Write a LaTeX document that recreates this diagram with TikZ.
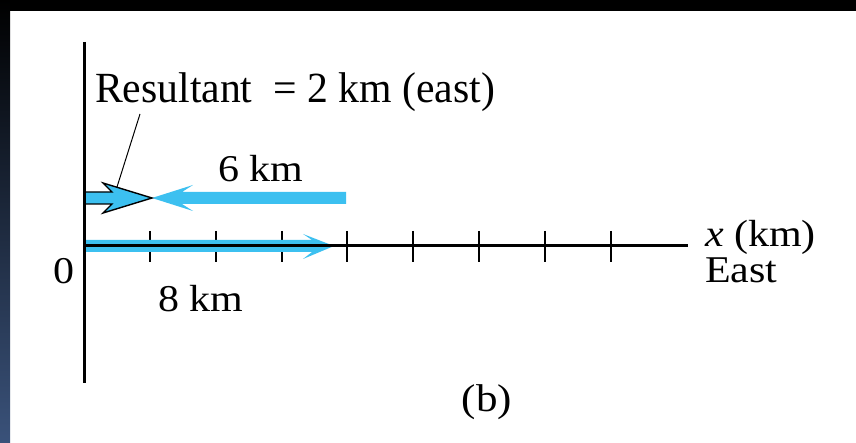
\documentclass[tikz,border=0pt]{standalone}
\usepackage{fontspec}
\usepackage{graphicx}
\setmainfont{Liberation Serif}
\definecolor{vblue}{RGB}{60,192,240}
\definecolor{bgblue}{RGB}{58,82,122}
\newcommand{\sqz}[1]{\scalebox{1}[0.9]{#1}}
\newcommand{\nrw}[1]{\scalebox{0.97}[1]{#1}}
\begin{document}
\begin{tikzpicture}[x=1pt,y=-1pt,
  lbl/.style={inner sep=0pt, outer sep=0pt, font=\fontsize{42}{48}\selectfont},
  biglbl/.style={inner sep=0pt, outer sep=0pt, font=\fontsize{43}{50}\selectfont},
  axisline/.style={draw=black, line width=3pt},
  tickline/.style={draw=black, line width=2.2pt},
  vecfill/.style={fill=vblue},
  leader/.style={draw=black, line width=1pt}]
% background and frame
\fill[white] (0,0) rectangle (856,443);
\fill[black] (0,0) rectangle (856,11);
\shade[top color=black, bottom color=bgblue] (0,0) rectangle (10,443);
\useasboundingbox (0,0) rectangle (856,443);

% axis coordinates
\coordinate (O) at (84,246);
\coordinate (Xend) at (688,246);
\coordinate (Ytop) at (84,42);
\coordinate (Ybot) at (84,383);

% ticks
\foreach \x in {150,216,282,347,413,479,545,611}
  \draw[tickline] (\x,231) -- (\x,262);

% 8 km vector
\fill[vecfill] (84,240) -- (312,240) -- (303,234) -- (334,246) -- (303,259) -- (312,252) -- (84,252) -- cycle;

% 6 km vector
\fill[vecfill] (346,192) -- (182,192) -- (193,185) -- (152,198) -- (193,211) -- (182,204) -- (346,204) -- cycle;

% resultant vector
\fill[vecfill] (84,192) -- (112,192) -- (103,183) -- (152,198) -- (103,213) -- (112,204) -- (84,204) -- cycle;
\draw[black, line width=1.4pt, line join=miter] (84,192) -- (112,192) -- (103,183) -- (152,198) -- (103,213) -- (112,204) -- (84,204);

% axes
\draw[axisline] (O) -- (Xend);
\draw[axisline] (Ytop) -- (Ybot);

% leader
\coordinate (L1) at (140,114);
\coordinate (L2) at (117,187);
\draw[leader] (L1) -- (L2);

% labels
\node[biglbl, anchor=base west] (res) at (95,103) {\nrw{Resultant\ \ = 2 km (east)}};
\node[lbl, anchor=base west] (six) at (218,182) {\sqz{6 km}};
\node[lbl, anchor=base west] (eight) at (158,312) {\sqz{8 km}};
\node[lbl, anchor=base west] (zero) at (53,284) {\sqz{0}};
\node[lbl, anchor=base west] (xkm) at (705,247) {\sqz{\textit{x} (km)}};
\node[lbl, anchor=base west] (east) at (705,283) {\sqz{East}};
\node[biglbl, anchor=base] (b) at (487,411) {\sqz{(b)}};
\end{tikzpicture}
\end{document}
